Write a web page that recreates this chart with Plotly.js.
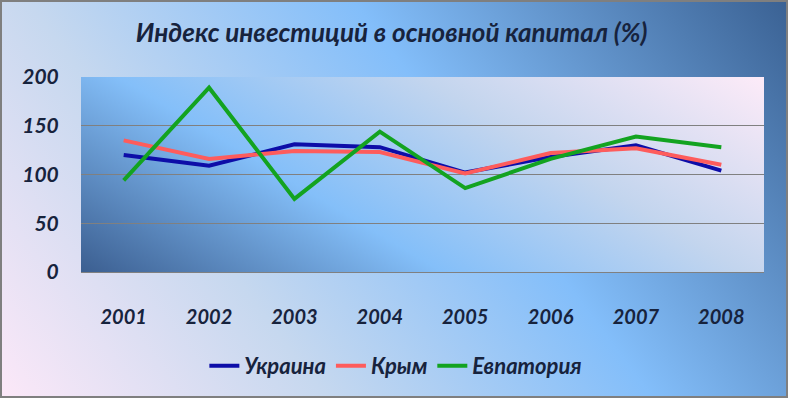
<!DOCTYPE html>
<html>
<head>
<meta charset="utf-8">
<script src="https://cdn.plot.ly/plotly-3.0.1.min.js"></script>
<style>
  html, body { margin: 0; padding: 0; }
  #wrap { position: relative; width: 788px; height: 398px; overflow: hidden;
    background: linear-gradient(53deg, #fce8f8 0%, #c6d8ef 30%, #83befa 60%, #3a6193 100%); }
  #plotbg { position: absolute; left: 81px; top: 77px; width: 683px; height: 196px;
    background: linear-gradient(31deg, #3b5e90 0%, #84bff9 36%, #c3d5ee 66%, #fdebf8 100%); }
  #chart { position: absolute; left: 0; top: 0; width: 788px; height: 398px; }
  #frame { position: absolute; left: 0; top: 0; width: 788px; height: 398px; box-sizing: border-box;
    border: 2px solid #7f7f7f; pointer-events: none; }
</style>
</head>
<body>
<div id="wrap">
  <div id="plotbg"></div>
  <div id="chart"></div>
  <div id="frame"></div>
</div>
<script>
const years = ['2001', '2002', '2003', '2004', '2005', '2006', '2007', '2008'];
const ukraine = [120, 109, 131, 128, 102, 118, 130, 104];
const crimea = [135, 116, 124, 123, 101, 122, 127, 110];
const evpatoria = [94, 189, 75, 144, 86, 116, 139, 128];
const seriesNames = ['Украина', 'Крым', 'Евпатория'];
const seriesColors = ['#0d0da8', '#fe5c5c', '#13a320'];

const font = 'Lato, "Open Sans", sans-serif';
const textColor = '#17233d';

const traces = [ukraine, crimea, evpatoria].map((vals, i) => ({
  type: 'scatter',
  mode: 'lines',
  x: years,
  y: vals,
  name: seriesNames[i],
  line: { color: seriesColors[i], width: 4 }
}));

const layout = {
  width: 788, height: 398,
  margin: { l: 81, r: 24, t: 77, b: 125 },
  paper_bgcolor: 'rgba(0,0,0,0)',
  plot_bgcolor: 'rgba(0,0,0,0)',
  title: {
    text: '<i>Индекс инвестиций в основной капитал (%)</i>',
    font: { family: font, size: 26, color: textColor, weight: 'bold' },
    x: 0.497, xref: 'container', xanchor: 'center',
    y: 0.917, yref: 'container', yanchor: 'middle'
  },
  xaxis: {
    type: 'category',
    range: [-0.5, 7.5],
    showgrid: false, zeroline: false, showline: false,
    ticks: 'outside', ticklen: 27, tickcolor: 'rgba(0,0,0,0)',
    tickfont: { family: font, size: 20, color: textColor, weight: 'bold', style: 'italic' }
  },
  yaxis: {
    range: [0, 200],
    tickvals: [0, 50, 100, 150, 200],
    showgrid: true, gridcolor: '#808080', gridwidth: 1,
    zeroline: true, zerolinecolor: '#808080', zerolinewidth: 1,
    showline: false,
    ticks: 'outside', ticklen: 17, tickcolor: 'rgba(0,0,0,0)',
    tickfont: { family: font, size: 21, color: textColor, weight: 'bold', style: 'italic' }
  },
  showlegend: true,
  legend: {
    orientation: 'h',
    x: 0.461, xanchor: 'center',
    y: -0.474, yanchor: 'middle',
    bgcolor: 'rgba(0,0,0,0)',
    font: { family: font, size: 22, color: textColor, weight: 'bold', style: 'italic' },
    itemwidth: 30
  }
};

Plotly.newPlot('chart', traces, layout, { displayModeBar: false, staticPlot: true });
</script>
</body>
</html>
